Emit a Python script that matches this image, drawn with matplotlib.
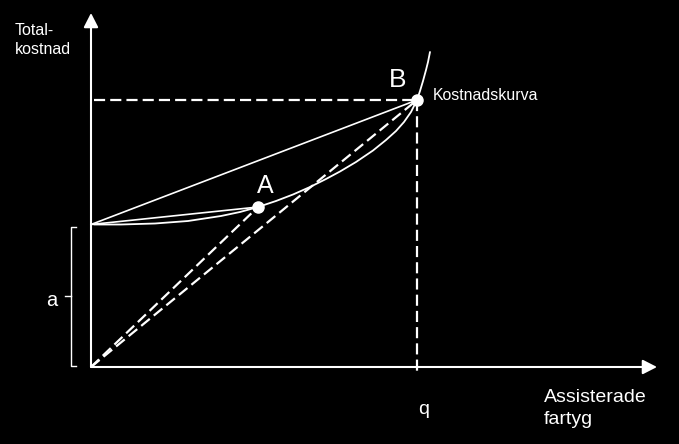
import matplotlib
matplotlib.use("Agg")
import matplotlib.pyplot as plt

# coordinates: x = ships assisted, y = total cost (origin at axis corner)
curve_x = [3, 30, 64, 97, 130, 149, 167, 185, 202, 219, 235, 249, 265, 282, 295, 305,
           313, 320, 326, 329, 332, 335, 337, 339]
curve_y = [142.5, 142.5, 143.5, 146, 151, 155, 160, 166, 172.5, 180, 188, 195.5, 205,
           216.5, 227, 236, 245, 255, 267, 276, 286, 297, 305, 315]

fixed_cost = 142.5          # "a"
point_a = (167, 160)
point_b = (326, 267)
q_value = 326

x_axis_end = 566
y_axis_end = 354

FG = "white"
FONT = "Liberation Sans"

fig = plt.figure(figsize=(6.79, 4.44), dpi=100, facecolor="black")
ax = fig.add_axes([0, 0, 1, 1])
ax.set_facecolor("black")
ax.set_xlim(-91, 588)
ax.set_ylim(-77, 367)
ax.axis("off")

# axes with arrow heads
arrow = dict(arrowstyle="-|>,head_length=0.43,head_width=0.22", color=FG,
             lw=1.5, mutation_scale=20, shrinkA=0, shrinkB=0)
ax.annotate("", xy=(0, y_axis_end), xytext=(0, 0), arrowprops=arrow)
ax.annotate("", xy=(x_axis_end, 0), xytext=(0, 0), arrowprops=arrow)

# cost curve
ax.plot(curve_x, curve_y, color=FG, lw=1.3, solid_capstyle="round", solid_joinstyle="round")

# chords from the fixed cost intercept
ax.plot([0, point_a[0]], [fixed_cost, point_a[1]], color=FG, lw=1.2)
ax.plot([0, point_b[0]], [fixed_cost, point_b[1]], color=FG, lw=1.2)

# dashed rays from origin and guide lines
dash = dict(color=FG, lw=1.6, dashes=(5, 2.3))
ax.plot([0, point_a[0]], [0, point_a[1]], **dash)
ax.plot([0, point_b[0]], [0, point_b[1]], **dash)
ax.plot([3, point_b[0]], [point_b[1], point_b[1]], **dash)
ax.plot([q_value, q_value], [point_b[1], -6], **dash)

# points
ax.plot(*point_a, "o", color=FG, ms=8)
ax.plot(*point_b, "o", color=FG, ms=8)

# bracket for fixed cost
bx = -20.3
ax.plot([bx + 5.3, bx, bx, bx + 5.3], [fixed_cost - 2.5, fixed_cost - 2.5, 1, 1], color=FG, lw=1.0)
ax.plot([bx - 5.7, bx], [71, 71], color=FG, lw=1.0)

# labels
ax.text(-76, 332, "Total-", color=FG, fontsize=11.5, family=FONT, va="baseline")
ax.text(-76, 313, "kostnad", color=FG, fontsize=11.5, family=FONT, va="baseline")
ax.text(342, 267, "Kostnadskurva", color=FG, fontsize=11.4, family=FONT, va="baseline")
ax.text(298, 280, "B", color=FG, fontsize=19, family=FONT, va="baseline")
ax.text(166, 174, "A", color=FG, fontsize=18, family=FONT, va="baseline")
ax.text(-45, 61, "a", color=FG, fontsize=14.5, family=FONT, va="baseline")
ax.text(327, -47, "q", color=FG, fontsize=14, family=FONT, va="baseline")
ax.text(453, -35, "Assisterade", color=FG, fontsize=14, family=FONT, va="baseline")
ax.text(453, -57, "fartyg", color=FG, fontsize=14, family=FONT, va="baseline")

fig.savefig("out.png", dpi=100, facecolor="black")
